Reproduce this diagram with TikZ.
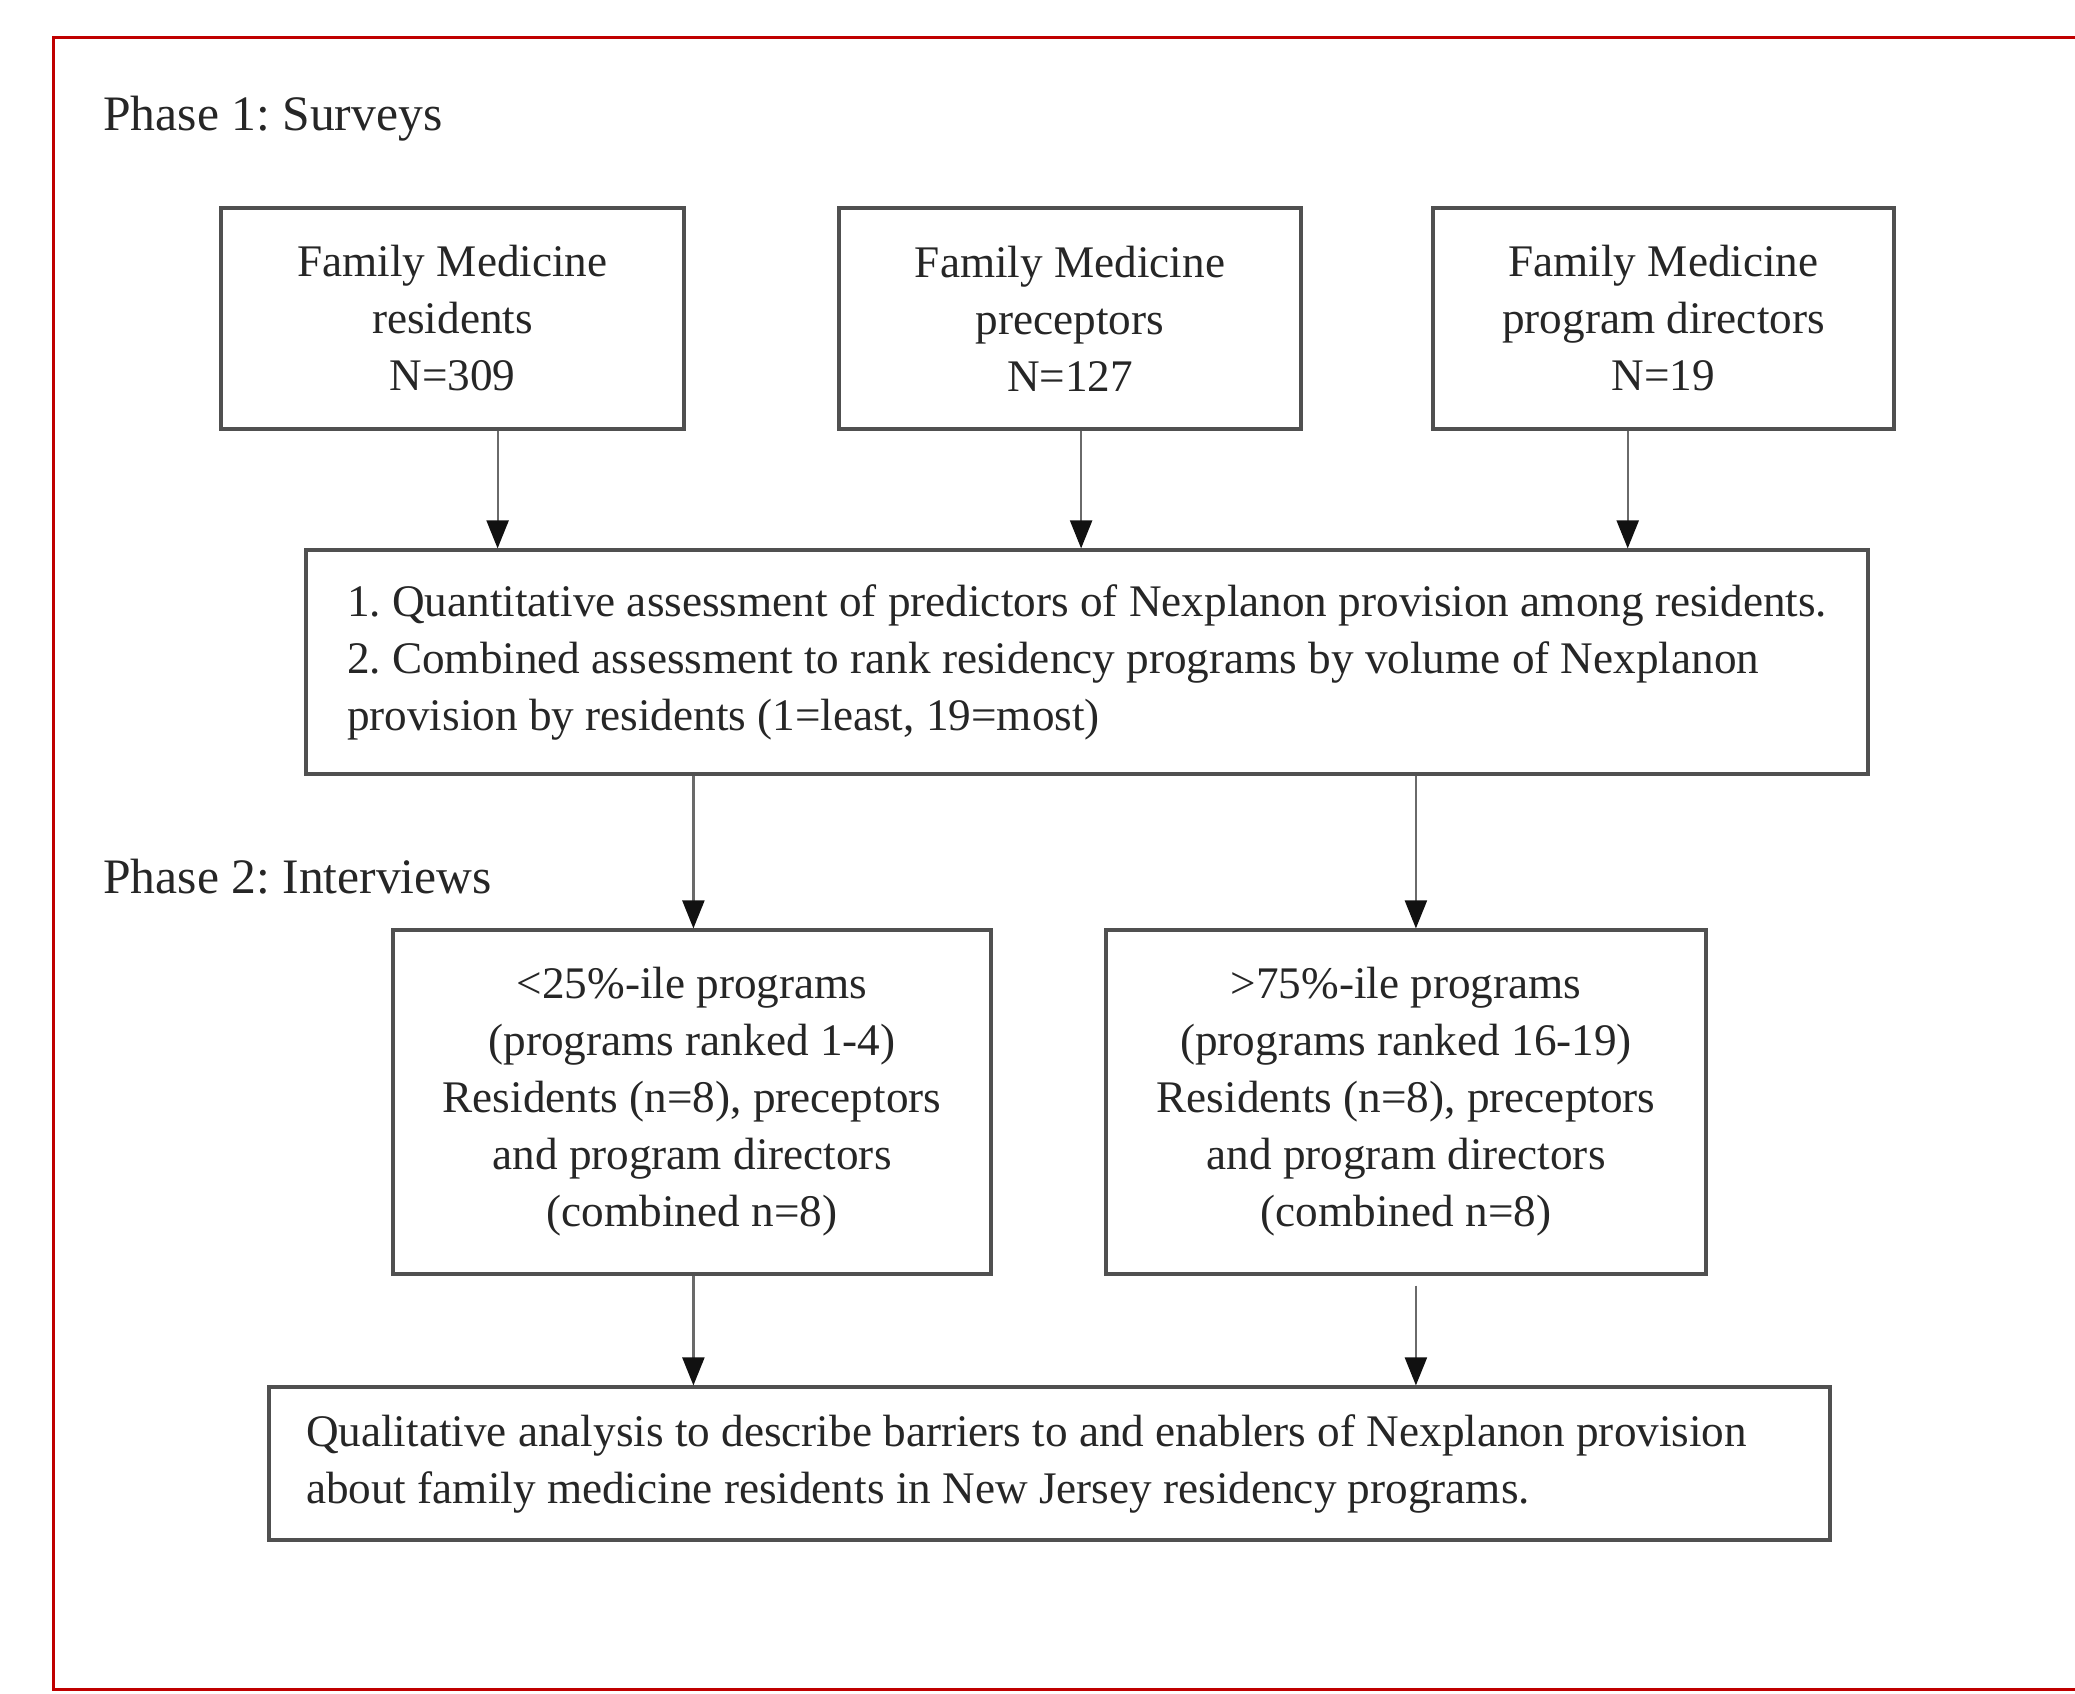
\documentclass[tikz,border=0pt]{standalone}
\usepackage{fontspec}
\setmainfont{Liberation Serif}
\usetikzlibrary{arrows.meta}
\definecolor{txt}{HTML}{262626}
\definecolor{frame}{HTML}{C00000}
\definecolor{edge}{HTML}{505050}
\definecolor{tip}{HTML}{111111}
\frenchspacing
\begin{document}
\begin{tikzpicture}[x=0.5pt,y=-0.5pt,
  box/.style={draw=edge, line width=1.6pt, fill=white, text=txt, align=center, inner sep=0pt,
              font=\fontsize{22.6}{28.5}\selectfont},
  arr/.style={draw=edge!85!white, line width=1.1pt, -{Triangle[length=14pt,width=11pt,color=tip]}},
  phase/.style={anchor=west, text=txt, inner sep=0pt, font=\fontsize{24.8}{29}\selectfont}]
\useasboundingbox (0,0) rectangle (2075,1693);
\fill[white] (0,0) rectangle (2075,1693);
% red frame (right side outside the picture)
\draw[frame, line width=1.5pt] (2090,37) -- (53,37) -- (53,1689) -- (2090,1689);

\node[phase] (p1) at (103,119) {Phase 1: Surveys};
\node[phase] (p2) at (103,877) {Phase 2: Interviews};

\node[box, minimum width=231.5pt, minimum height=110.5pt] (b1) at (452.5,318.5)
  {Family Medicine\\residents\\N=309};
\node[box, minimum width=231pt, minimum height=110.5pt] (b2) at (1070,318.5)
  {Family Medicine\\preceptors\\N=127};
\node[box, minimum width=230.5pt, minimum height=110.5pt] (b3) at (1663.5,318.5)
  {Family Medicine\\program directors\\N=19};

\node[box, align=left, minimum width=781pt, minimum height=112pt] (b4) at (1087,662)
  {1. Quantitative assessment of predictors of Nexplanon provision among residents.\\
   2. Combined assessment to rank residency programs by volume of Nexplanon\\
   provision by residents (1=least, 19=most)};

\node[box, minimum width=299pt, minimum height=172pt] (b5) at (692,1102)
  {<25\%-ile programs\\(programs ranked 1-4)\\Residents (n=8), preceptors\\and program directors\\(combined n=8)};
\node[box, minimum width=300pt, minimum height=172pt] (b6) at (1406,1102)
  {>75\%-ile programs\\(programs ranked 16-19)\\Residents (n=8), preceptors\\and program directors\\(combined n=8)};

\node[box, align=flush left, text width=743.5pt, inner xsep=18.5pt, minimum height=76.5pt] (b7) at (1049.5,1463.5)
  {Qualitative analysis to describe barriers to and enablers of Nexplanon provision\\
   about family medicine residents in New Jersey residency programs.};

\coordinate (x1) at (497.6,0);
\coordinate (x2) at (1081.1,0);
\coordinate (x3) at (1627.7,0);
\coordinate (x4) at (693.4,0);
\coordinate (x5) at (1415.9,0);

\draw[arr] (b1.south -| x1) -- (b4.north -| x1);
\draw[arr] (b2.south -| x2) -- (b4.north -| x2);
\draw[arr] (b3.south -| x3) -- (b4.north -| x3);
\draw[arr] (b4.south -| x4) -- (b5.north -| x4);
\draw[arr] (b4.south -| x5) -- (b6.north -| x5);
\draw[arr] (b5.south -| x4) -- (b7.north -| x4);
\draw[arr, shorten <=5pt] (b6.south -| x5) -- (b7.north -| x5);
\end{tikzpicture}
\end{document}
